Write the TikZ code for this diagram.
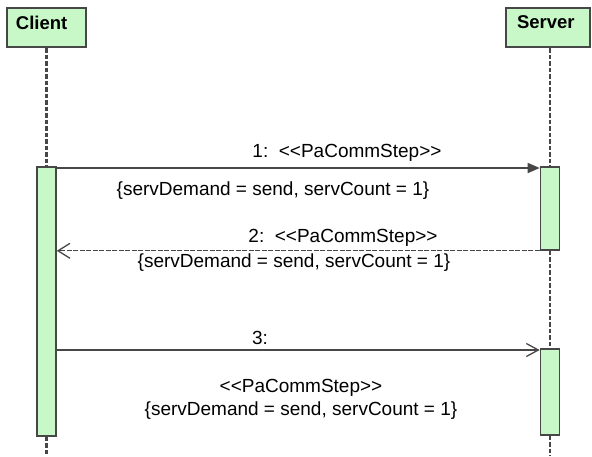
\documentclass[tikz,border=0pt]{standalone}
\usepackage{fontspec}
\setmainfont{Liberation Sans}
\usepackage{tikz}
\usetikzlibrary{arrows.meta, positioning, calc}
\usepackage{xcolor}
\definecolor{lifegreen}{HTML}{C8F8C8}
\definecolor{linegray}{HTML}{474747}

\tikzset{
  headbox/.style={draw=linegray, fill=lifegreen, line width=2pt, minimum height=39pt, text depth=10pt, align=left, font=\bfseries\fontsize{18.5}{22}\selectfont},
  actbox/.style={draw=linegray, fill=lifegreen, line width=1.6pt, minimum width=19pt, inner sep=0pt},
  lifeline/.style={draw=linegray, line width=2.4pt, dash pattern=on 4.5pt off 2pt},
  msgtext/.style={inner sep=0pt, align=center, font=\fontsize{19}{23}\selectfont},
  callmsg/.style={draw=linegray, line width=1.5pt, -{Triangle[length=12pt, width=10pt]}},
  replymsg/.style={draw=linegray, line width=1.1pt, dash pattern=on 5pt off 1.5pt, -{Straight Barb[length=12pt, width=15pt, line width=1.3pt]}},
  sendmsg/.style={draw=linegray, line width=1.5pt, -{Straight Barb[length=12pt, width=13pt, line width=1.3pt]}}
}

\begin{document}
\begin{tikzpicture}[x=1pt, y=-1pt]
  \useasboundingbox (0,0) rectangle (592,456);
  \coordinate (bottom) at (0,456);
  % lifelines heads
  \node[headbox, text width=61pt, inner xsep=9pt] (client) at (46.5,27.5) {Client};
  \node[headbox, text width=62pt, inner xsep=11pt] (server) at (548,27.5) {Server};
  % activations
  \node[actbox, minimum height=269pt] (cact) at (46.5,301.5) {};
  \node[actbox, minimum height=83pt] (sact1) at (550,208.5) {};
  \node[actbox, minimum height=86pt] (sact2) at (550,392) {};
  \draw[lifeline] (cact.north |- client.south) -- (cact.north);
  \draw[lifeline] (cact.south) -- (cact.south |- bottom);
  \draw[lifeline] (sact1.north |- server.south) -- (sact1.north);
  \draw[lifeline] (sact1.south) -- (sact2.north);
  \draw[lifeline] (sact2.south) -- (sact2.south |- bottom);
  % messages
  \coordinate (m1) at (0,168);
  \coordinate (m3) at (0,350);
  \draw[callmsg] (m1 -| cact.east) -- (m1 -| sact1.west);
  \draw[replymsg] (sact1.south west) -- (sact1.south west -| cact.east);
  \draw[sendmsg] (m3 -| cact.east) -- (m3 -| sact2.west);
  % labels
  \node[msgtext] (lab1) at (347,153) {1:\ \ {<}{<}PaCommStep{>}{>}};
  \node[msgtext] (con1) at (273,191) {\{servDemand = send, servCount = 1\}};
  \node[msgtext] (lab2) at (343,238) {2:\ \ {<}{<}PaCommStep{>}{>}};
  \node[msgtext] (con2) at (294,263) {\{servDemand = send, servCount = 1\}};
  \node[msgtext] (lab3) at (260,338) {3:};
  \node[msgtext] (con3) at (301,399) {{<}{<}PaCommStep{>}{>}\\ \{servDemand = send, servCount = 1\}};
\end{tikzpicture}
\end{document}
